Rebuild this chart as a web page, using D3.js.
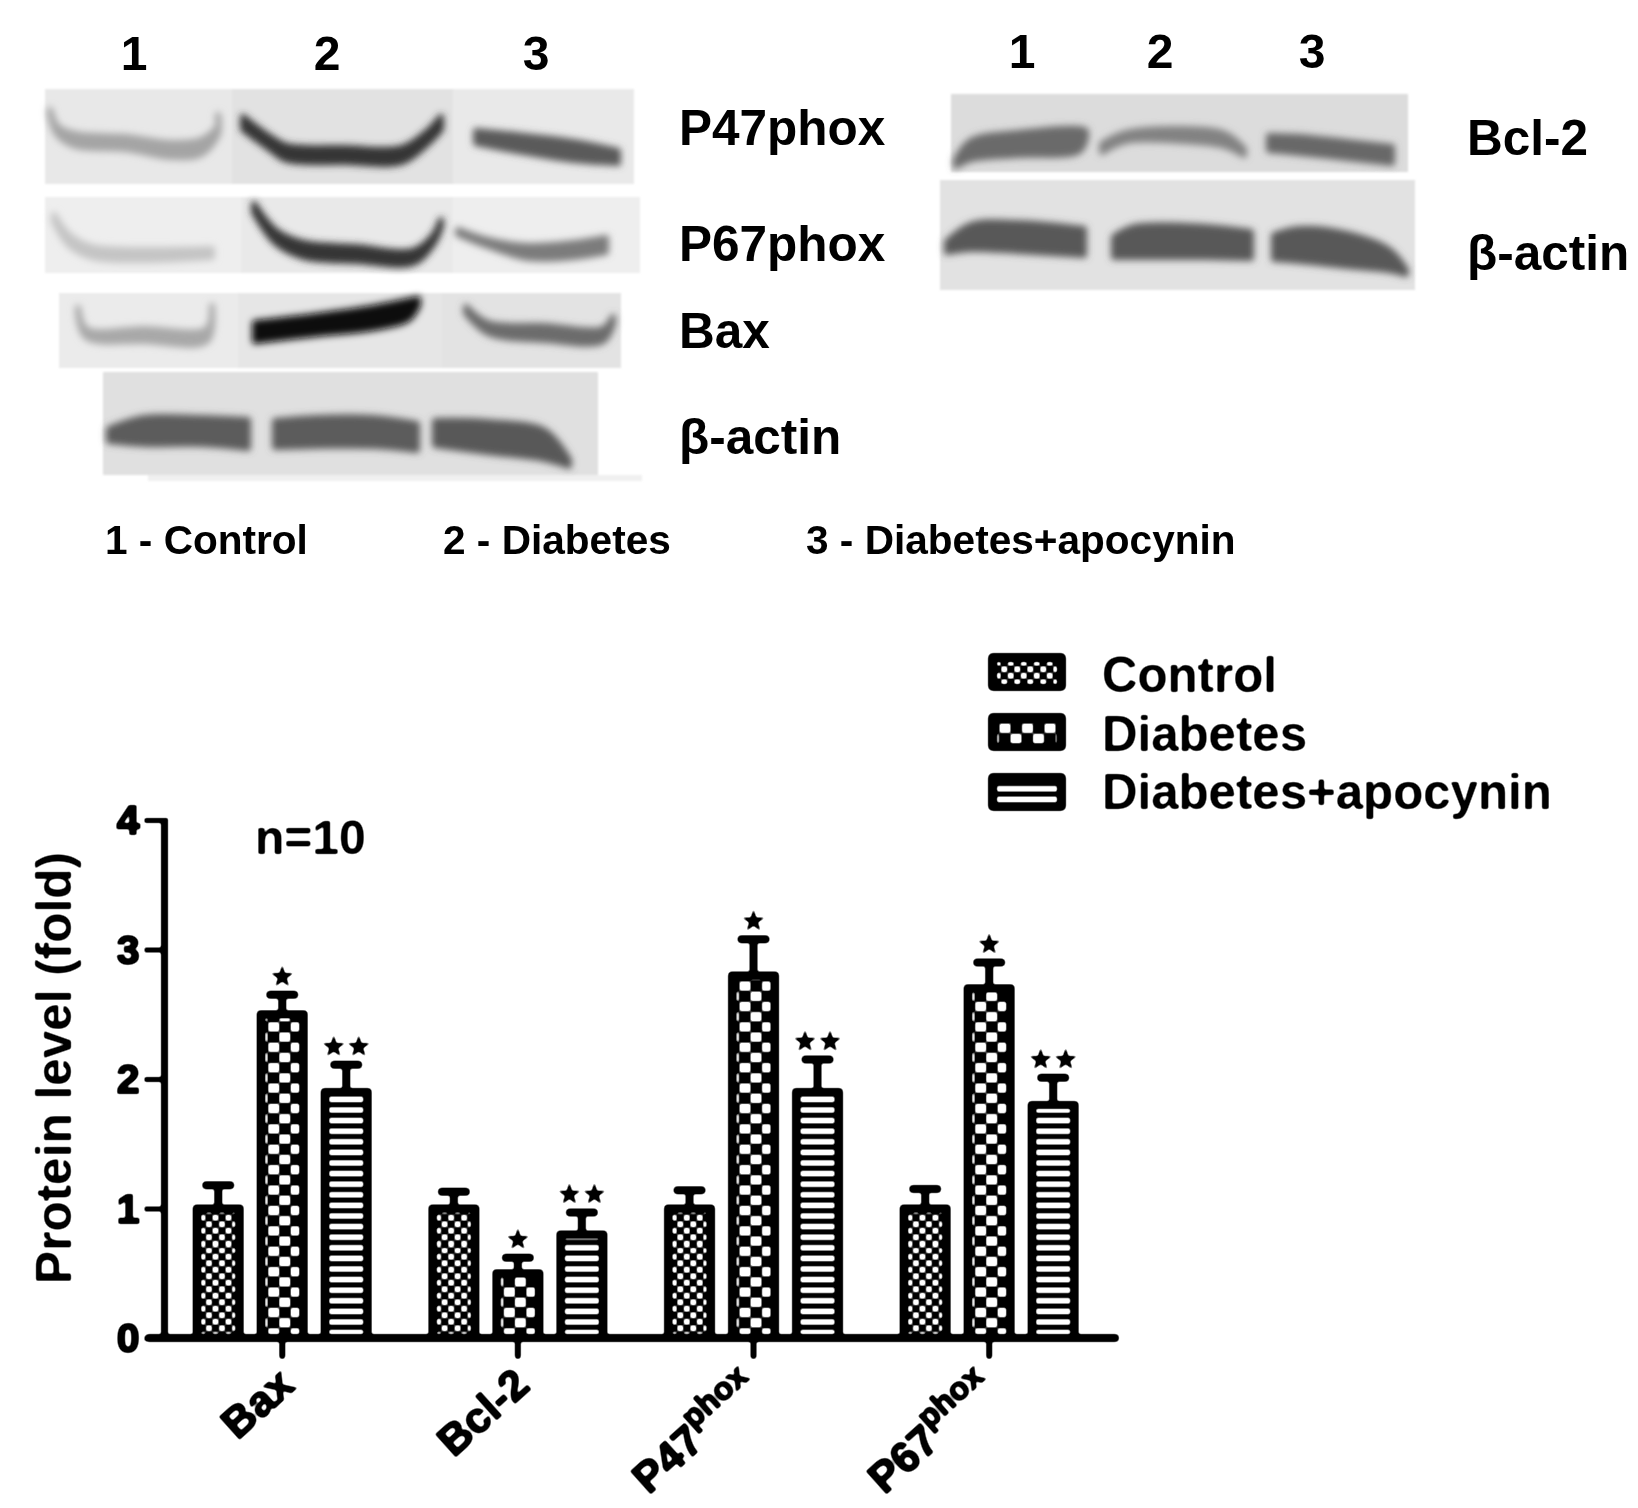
<!DOCTYPE html>
<html><head><meta charset="utf-8">
<style>html,body{margin:0;background:#fff}svg{display:block}text{font-family:"Liberation Sans",Arial,sans-serif;font-weight:700;fill:#000}</style>
<script src="https://cdn.jsdelivr.net/npm/d3@7"></script></head><body>
<svg id="c" width="1638" height="1508"></svg>
<script>
// ---------- chart data ----------
const categories = ["Bax", "Bcl-2", "P47", "P67"];
const seriesNames = ["Control", "Diabetes", "Diabetes+apocynin"];
const controlValues  = [1.0, 1.0, 1.0, 1.0];
const diabetesValues = [2.5, 0.5, 2.8, 2.7];
const apocyninValues = [1.9, 0.8, 1.9, 1.8];
const controlTops    = [1.18, 1.13, 1.14, 1.15];
const diabetesTops   = [2.65, 0.62, 3.08, 2.90];
const apocyninTops   = [2.11, 0.97, 2.15, 2.01];
const significance   = [0, 1, 2];           // stars per series
const yTicks = [0, 1, 2, 3, 4];
const laneNumbers = ["1", "2", "3"];
const blotKey = ["1 - Control", "2 - Diabetes", "3 - Diabetes+apocynin"];

// ---------- blot layout (panel strips and band centre-lines: [x, y, half-thickness]) ----------
const blotPanels = [
  [45,232,89,184,"#e8e8e8"],[232,453,89,184,"#e2e2e2"],[453,634,89,184,"#e9e9e9"],
  [45,241,197,273,"#eeeeee"],[241,453,197,273,"#e9e9e9"],[453,640,197,273,"#eeeeee"],
  [59,238,293,368,"#ebebeb"],[238,442,293,368,"#e6e6e6"],[442,621,293,368,"#e3e3e3"],
  [103,598,372,475,"#e0e0e0"],[148,642,475,481,"#f0f0f0"],
  [951,1408,94,172,"#dcdcdc"],[940,1415,180,290,"#e2e2e2"]
];
const blotBands = [
  ["#a4a4a4",[[50,112,2],[57,130,4],[75,140,6],[126,143,6],[172,150,7],[201,147,7],[218,130,4],[218,117,2]]],
  ["#343434",[[243,123,6],[270,143,6],[287,153,7],[344,155,7],[402,155,7],[428,137,6],[441,123,6]]],
  ["#5a5a5a",[[476,137,6],[517,143,8],[574,151,9],[618,157,6]]],
  ["#c4c4c4",[[54,218,3],[69,240,5],[92,252,5],[144,255,5],[212,253,4]]],
  ["#343434",[[254,208,4],[276,237,6],[304,250,7],[356,254,7],[413,257,6],[433,240,4],[441,223,3]]],
  ["#7c7c7c",[[458,232,2],[488,243,3],[528,252,6],[574,250,7],[606,245,7]]],
  ["#a8a8a8",[[78,310,2],[86,333,4],[144,335,6],[207,335,6],[212,308,2]]],
  ["#080808",[[255,332,9],[316,325,9],[373,318,10],[408,310,9],[418,302,3]]],
  ["#6c6c6c",[[466,310,3],[488,328,5],[545,333,7],[603,335,6],[613,320,3]]],
  ["#5c5c5c",[[109,435,6],[144,431,13],[201,431,13],[248,434,14]]],
  ["#5c5c5c",[[275,434,13],[316,432,14],[373,432,14],[417,437,13]]],
  ["#585858",[[435,433,12],[488,437,15],[545,445,14],[569,463,3]]],
  ["#6a6a6a",[[956,163,3],[971,150,9],[1018,144,11],[1079,140,11],[1086,134,3]]],
  ["#828282",[[1102,148,4],[1126,137,4],[1182,135,6],[1225,140,6],[1244,152,3]]],
  ["#686868",[[1269,143,7],[1300,145,8],[1347,150,8],[1392,155,8]]],
  ["#585858",[[947,247,5],[971,237,12],[1018,237,14],[1084,242,13]]],
  ["#585858",[[1114,247,10],[1135,242,15],[1206,242,15],[1251,245,13]]],
  ["#585858",[[1274,247,12],[1300,245,16],[1347,250,16],[1389,260,10],[1406,272,2]]]
];

const svg = d3.select("#c");
const defs = svg.append("defs");
const soft = defs.append("filter").attr("id","soft").attr("filterUnits","userSpaceOnUse")
  .attr("x",0).attr("y",0).attr("width",1638).attr("height",1508).attr("color-interpolation-filters","sRGB");
soft.append("feGaussianBlur").attr("stdDeviation",0.9);
const tr = soft.append("feComponentTransfer");
["R","G","B"].forEach(c=>tr.append("feFunc"+c).attr("type","linear").attr("slope",2.2).attr("intercept",-0.6));
[["b3",3.6],["b1",1.2],["t05",0.55]].forEach(([id,s])=>{
  defs.append("filter").attr("id",id).attr("x","-20%").attr("y","-40%").attr("width","140%").attr("height","180%")
    .append("feGaussianBlur").attr("stdDeviation",s);
});
// hatch patterns
const white = "#fff";
const pCtl = defs.append("pattern").attr("id","p0").attr("patternUnits","userSpaceOnUse").attr("width",13).attr("height",13);
pCtl.append("rect").attr("width",13).attr("height",13).attr("fill","#000");
[[0,0],[6.5,6.5]].forEach(([x,y])=>pCtl.append("rect").attr("x",x+0.3).attr("y",y+0.3).attr("width",5.9).attr("height",5.9).attr("fill",white));
const pDia = defs.append("pattern").attr("id","p1").attr("patternUnits","userSpaceOnUse").attr("width",22.5).attr("height",20.4);
pDia.append("rect").attr("width",22.5).attr("height",20.4).attr("fill","#000");
pDia.append("rect").attr("x",0).attr("y",0.4).attr("width",11).attr("height",9.4).attr("fill",white);
pDia.append("rect").attr("x",11.5).attr("y",10.6).attr("width",11).attr("height",9.4).attr("fill",white);
const pStr = defs.append("pattern").attr("id","p2").attr("patternUnits","userSpaceOnUse").attr("width",10).attr("height",10.6);
pStr.append("rect").attr("width",10).attr("height",10.6).attr("fill","#000");
pStr.append("rect").attr("y",2.4).attr("width",10).attr("height",5.6).attr("fill",white);

// ---------- western blots ----------
const blots = svg.append("g");
blots.append("g").attr("filter","url(#b1)").selectAll("rect").data(blotPanels).join("rect")
  .attr("x",d=>d[0]).attr("y",d=>d[2]).attr("width",d=>d[1]-d[0]).attr("height",d=>d[3]-d[2]).attr("fill",d=>d[4]);
const bandArea = d3.area().x(d=>d[0]).y0(d=>d[1]-d[2]).y1(d=>d[1]+d[2]).curve(d3.curveCatmullRom);
blots.append("g").attr("filter","url(#b3)").selectAll("path").data(blotBands).join("path")
  .attr("d",d=>bandArea(d[1])).attr("fill",d=>d[0]).attr("stroke",d=>d[0]).attr("stroke-width",6).attr("stroke-linejoin","round");

// blot text
const tx = svg.append("g").attr("filter","url(#t05)");
const put=(s,x,y,fs,anchor)=>tx.append("text").attr("x",x).attr("y",y).attr("font-size",fs).attr("text-anchor",anchor||"start").text(s);
[134,327,536].forEach((x,i)=>put(laneNumbers[i],x,70,48,"middle"));
[1022,1160,1312].forEach((x,i)=>put(laneNumbers[i],x,68,48,"middle"));
put("P47phox",679,144.5,49.5); put("P67phox",679,260.5,49.5); put("Bax",679,348,49.5); put("β-actin",679,454,49.5);
put("Bcl-2",1467,154.5,49.5); put("β-actin",1467,270,49.5);
[105,443,806].forEach((x,i)=>put(blotKey[i],x,554,40.6));

// ---------- bar chart ----------
const chart = svg.append("g").attr("filter","url(#soft)");
chart.append("rect").attr("x",0).attr("y",600).attr("width",1638).attr("height",908).attr("fill","#fff");
chart.append("rect").attr("x",30).attr("y",1488).attr("width",1000).attr("height",4).attr("fill","#f7f7f7");
const y = d3.scaleLinear().domain([0,4]).range([1338,820]);
const x0 = d3.scaleBand().domain(categories).range([164.4,1107]).padding(0);
const barStep = 64, barW = 51;
const x1 = d3.scaleBand().domain(seriesNames).range([0,barStep*3]).padding(0);
const groupShift = (x0.bandwidth()-barStep*3)/2 + (barStep-barW)/2;

const valueSets=[controlValues,diabetesValues,apocyninValues], topSets=[controlTops,diabetesTops,apocyninTops];
const rows=[];
categories.forEach((c,ci)=>seriesNames.forEach((s,si)=>rows.push({c,s,si,v:valueSets[si][ci],top:topSets[si][ci]})));

const bars = chart.append("g").selectAll("g").data(rows).join("g")
  .attr("transform",d=>`translate(${x0(d.c)+groupShift+x1(d.s)},${y(0)})`);
const bh = d=>y(0)-y(d.v);
const mid = barW/2, overTop = 4;
// error stem + cap
bars.append("line").attr("x1",mid).attr("x2",mid).attr("y1",d=>-bh(d)).attr("y2",d=>y(d.top)-y(0)).attr("stroke","#000").attr("stroke-width",8);
bars.append("line").attr("x1",mid-12).attr("x2",mid+12).attr("y1",d=>y(d.top)-y(0)).attr("y2",d=>y(d.top)-y(0))
  .attr("stroke","#000").attr("stroke-width",8).attr("stroke-linecap","round");
// body
bars.append("rect").attr("x",0).attr("width",barW).attr("y",d=>-bh(d)-overTop).attr("height",d=>bh(d)+overTop).attr("rx",4).attr("fill","#000");
bars.append("rect").attr("x",8.5).attr("width",barW-17).attr("y",d=>-bh(d)+4).attr("height",d=>Math.max(0,bh(d)-6))
  .attr("fill",d=>`url(#p${d.si})`);
// stars
const starPath=d3.symbol().type(d3.symbolStar).size(165)();
bars.each(function(d){
  const n=significance[d.si]; if(!n) return;
  const offs=n===1?[0]:[-12.5,12.5];
  d3.select(this).selectAll("path.star").data(offs).join("path").attr("class","star")
    .attr("d",starPath).attr("transform",o=>`translate(${mid+o},${y(d.top)-y(0)-18})`).attr("fill","#000");
});
// axes
const yAxis = chart.append("g").attr("transform","translate(164.5,0)").call(d3.axisLeft(y).tickValues(yTicks).tickSize(20).tickPadding(5).tickFormat(d3.format("d")));
yAxis.select(".domain").attr("stroke","#000").attr("stroke-width",7).attr("d",`M0,${y(4)-2}V${y(0)+3}`);
yAxis.selectAll(".tick line").attr("stroke","#000").attr("stroke-width",5);
yAxis.selectAll(".tick text").attr("font-size",41).attr("font-family",'"Liberation Sans"').attr("font-weight",700).attr("stroke","#000").attr("stroke-width",2).attr("dy","0.34em");

const xAxis = chart.append("g").attr("transform",`translate(0,${y(0)})`).call(d3.axisBottom(x0).tickSize(18).tickFormat(""));
xAxis.select(".domain").attr("stroke","#000").attr("stroke-width",8).attr("stroke-linecap","round").attr("d","M149,0H1115");
xAxis.selectAll(".tick line").attr("stroke","#000").attr("stroke-width",6).attr("stroke-linecap","round");

const labels = chart.append("g").selectAll("text").data(categories).join("text")
  .attr("transform",d=>`translate(${x0(d)+x0.bandwidth()/2+(d[0]==="P"?9:14)},${y(0)+(d[0]==="P"?55:50)}) rotate(-42)`)
  .attr("text-anchor","end").attr("font-size",43).attr("stroke","#000").attr("stroke-width",1.6);
labels.each(function(d){
  const t=d3.select(this);
  if(d.startsWith("P")){ t.append("tspan").text(d); t.append("tspan").attr("dy",-19).attr("font-size",32).text("phox"); }
  else t.text(d);
});
chart.append("text").attr("transform","translate(71,1068) rotate(-90)").attr("text-anchor","middle").attr("font-size",49.5).text("Protein level (fold)");
chart.append("text").attr("x",255).attr("y",854).attr("font-size",48).text("n=10");

// legend
const legendY=[653,713,773], legendText=[692,751,809];
const lg=chart.append("g").selectAll("g").data(seriesNames).join("g").attr("transform",(d,i)=>`translate(988,${legendY[i]})`);
lg.append("rect").attr("width",78).attr("height",38).attr("rx",5).attr("fill","#000");
lg.append("rect").attr("x",9).attr("y",9).attr("width",60).attr("height",22).attr("fill",(d,i)=>`url(#p${i})`);
lg.append("text").attr("x",114).attr("y",(d,i)=>legendText[i]-legendY[i]).attr("font-size",49.2).text(d=>d);
</script></body></html>
